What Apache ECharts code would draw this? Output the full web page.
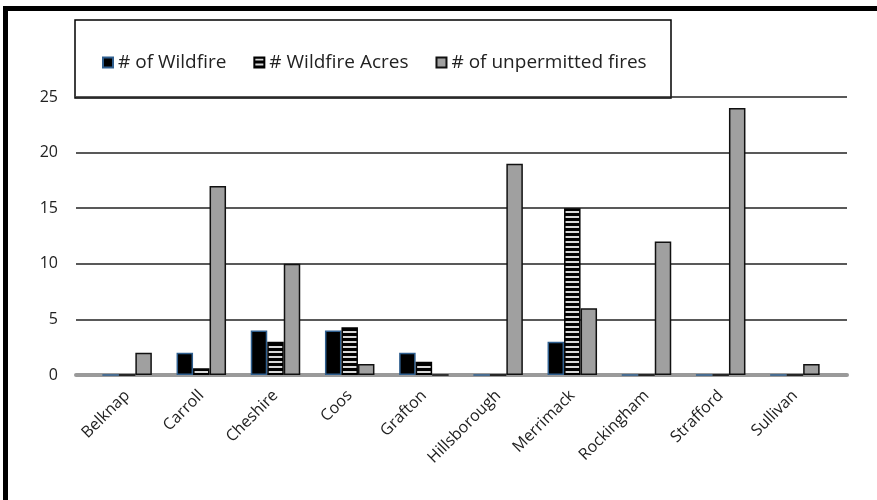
<!DOCTYPE html>
<html><head><meta charset="utf-8">
<script src="https://cdn.jsdelivr.net/npm/echarts@6/dist/echarts.min.js"></script>
<style>html,body{margin:0;padding:0;background:#fff}#c{width:877px;height:500px}</style>
</head><body><div id="c"></div>
<script>
const categories = ['Belknap','Carroll','Cheshire','Coos','Grafton','Hillsborough','Merrimack','Rockingham','Strafford','Sullivan'];
const wildfires = [0, 2, 4, 4, 2, 0, 3, 0, 0, 0];
const wildfireAcres = [0, 0.6, 3, 4.3, 1.2, 0, 15, 0, 0, 0];
const unpermitted = [2, 17, 10, 1, 0, 19, 6, 12, 24, 1];
const yTicks = [0, 5, 10, 15, 20, 25];

const pc = document.createElement('canvas');
pc.width = 8; pc.height = 5;
const g = pc.getContext('2d');
g.fillStyle = '#000'; g.fillRect(0,0,8,5);
g.fillStyle = '#d8d8d8'; g.fillRect(0,1,8,2);

const font = '"Open Sans", "Noto Sans", sans-serif';
const chart = echarts.init(document.getElementById('c'));
chart.setOption({
  animation: false,
  backgroundColor: '#fff',
  graphic: [
    {type:'rect', z:0, shape:{x:3,y:6,width:874,height:5}, style:{fill:'#000'}},
    {type:'rect', z:0, shape:{x:3,y:6,width:5,height:494}, style:{fill:'#000'}},
    {type:'rect', z:0, shape:{x:75,y:20,width:596,height:78}, style:{fill:'#fff', stroke:'#000', lineWidth:1.5}}
  ],
  legend: {
    left: 97, top: 48, itemWidth: 10, itemHeight: 10, itemGap: 27,
    icon: 'rect',
    textStyle: {fontFamily: font, fontSize: 19, color: '#222'},
    data: ['# of Wildfire', '# Wildfire Acres', '# of unpermitted fires']
  },
  grid: [
    {left: 76, right: 30, top: 97, bottom: 125},
    {left: 90, right: 45, top: 97, bottom: 125}
  ],
  xAxis: [
    {type:'value', gridIndex:0, min:0, max:1, show:true,
     axisLine:{show:true, onZero:true, lineStyle:{color:'#9a9a9a', width:4}},
     axisLabel:{show:false}, axisTick:{show:false}, splitLine:{show:false}},
    {type:'category', gridIndex:1, data: categories,
     axisLine:{show:false}, axisTick:{show:false},
     axisLabel:{rotate:45, margin:18, fontFamily: font, fontSize: 16, color:'#222', interval:0}}
  ],
  yAxis: [
    {type:'value', gridIndex:0, min:0, max:25, interval:5,
     axisLine:{show:false}, axisTick:{show:false},
     axisLabel:{margin:18, fontFamily: font, fontSize: 16, color:'#222'},
     splitLine:{show:true, lineStyle:{color:'#222', width:1.5}}},
    {type:'value', gridIndex:1, min:0, max:25, interval:5, show:false}
  ],
  series: [
    {name:'# of Wildfire', type:'bar', xAxisIndex:1, yAxisIndex:1, data: wildfires,
     barWidth: 16.5, barGap: '0%',
     itemStyle:{color:'#000', borderColor:'#2f5f8f', borderWidth:1.5}},
    {name:'# Wildfire Acres', type:'bar', xAxisIndex:1, yAxisIndex:1, data: wildfireAcres,
     barWidth: 16.5, barGap: '0%',
     itemStyle:{color:{image: pc, repeat:'repeat'}, borderColor:'#000', borderWidth:1.5}},
    {name:'# of unpermitted fires', type:'bar', xAxisIndex:1, yAxisIndex:1, data: unpermitted,
     barWidth: 16.5, barGap: '0%',
     itemStyle:{color:'#a0a0a0', borderColor:'#111', borderWidth:1.5}}
  ]
});
</script></body></html>
